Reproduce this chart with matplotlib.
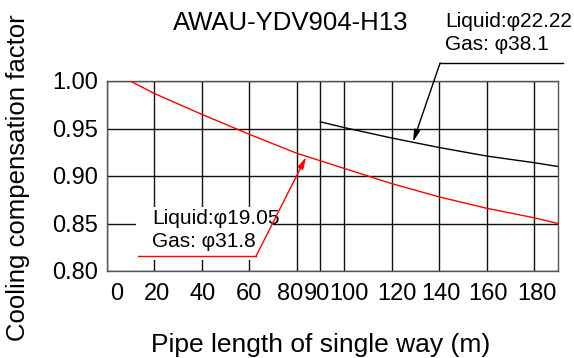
import matplotlib
matplotlib.use("Agg")
import matplotlib.pyplot as plt
from matplotlib.patches import Rectangle
from matplotlib.transforms import ScaledTranslation

plt.rcParams['font.family'] = ['Liberation Sans', 'DejaVu Sans']

# Data
red_x = [10, 20, 40, 60, 80, 90, 100, 120, 140, 160, 180, 190]
red_y = [1.000, 0.987, 0.965, 0.944, 0.924, 0.916, 0.908, 0.892, 0.878, 0.866, 0.856, 0.850]
black_x = [90, 100, 120, 140, 160, 180, 190]
black_y = [0.957, 0.951, 0.940, 0.930, 0.921, 0.914, 0.910]
x_ticks = [0, 20, 40, 60, 80, 90, 100, 120, 140, 160, 180]
y_ticks = [0.80, 0.85, 0.90, 0.95, 1.00]
y_tick_labels = ["0.80", "0.85", "0.90", "0.95", "1.00"]

W, H = 574, 358
fig = plt.figure(figsize=(W / 100, H / 100), dpi=100)
ax = fig.add_axes([106.5 / W, 1 - 271 / H, (558 - 106.5) / W, (271 - 81) / H])
ax.set_xlim(0, 190)
ax.set_ylim(0.80, 1.00)
ax.set_xticks(x_ticks)
ax.set_yticks(y_ticks)
ax.set_yticklabels(y_tick_labels)
ax.tick_params(length=0, labelsize=17, pad=6)
ax.tick_params(axis='x', pad=9)

# small horizontal nudges of x tick labels (pixels), as in the drawing
label_shift_px = [10, 3, 1, 0, -6.5, -3.5, 5, 5, 2, 1, 3]
for tick, dx in zip(ax.xaxis.get_major_ticks(), label_shift_px):
    lab = tick.label1
    lab.set_transform(lab.get_transform() + ScaledTranslation(dx / 100, 0, fig.dpi_scale_trans))

for s in ax.spines.values():
    s.set_color('#555555')
    s.set_linewidth(1.0)
ax.grid(True, color='#111111', linewidth=1.0, zorder=0)
ax.set_axisbelow(True)

# White box behind the red label
ax.add_patch(Rectangle((12.4, 0.8116), 70 - 12.4, 0.8674 - 0.8116,
                       facecolor='white', edgecolor='none', zorder=1.5))

ax.plot(red_x, red_y, color='#ff0000', linewidth=1.0, zorder=3)
ax.plot(black_x, black_y, color='black', linewidth=1.0, zorder=3)

# Red leader
ax.plot([13.3, 63], [0.816, 0.816], color='#ff0000', linewidth=1.0, zorder=3, clip_on=False)
ax.annotate('', xy=(84, 0.920), xytext=(63, 0.816),
            arrowprops=dict(arrowstyle='-|>,head_length=0.7,head_width=0.18',
                            color='#ff0000', lw=1.0, shrinkA=0, shrinkB=0), zorder=3)
ax.text(19.2, 0.8495, "Liquid:φ19.05", fontsize=15, va='baseline', ha='left', zorder=2)
ax.text(19.2, 0.8253, "Gas: φ31.8", fontsize=15, va='baseline', ha='left', zorder=2)

# Black leader
ax.plot([140.4, 192.2], [1.019, 1.019], color='black', linewidth=1.0, clip_on=False, zorder=3)
ax.annotate('', xy=(129, 0.936), xytext=(140.4, 1.019),
            arrowprops=dict(arrowstyle='-|>,head_length=0.7,head_width=0.18',
                            color='black', lw=1.0, shrinkA=0, shrinkB=0),
            annotation_clip=False, zorder=3)

fig.text(445 / W, 1 - 27 / H, "Liquid:φ22.22", fontsize=15, va='baseline', ha='left')
fig.text(445 / W, 1 - 50 / H, "Gas: φ38.1", fontsize=15, va='baseline', ha='left')
fig.text(291 / W, 1 - 30 / H, "AWAU-YDV904-H13", fontsize=18.5, va='baseline', ha='center')
fig.text(321 / W, 1 - 352 / H, "Pipe length of single way (m)", fontsize=19,
         va='baseline', ha='center')
fig.text(18 / W, 1 - 178 / H, "Cooling compensation factor", fontsize=18.5,
         va='center', ha='center', rotation=90)

fig.savefig("out.png", dpi=100)
